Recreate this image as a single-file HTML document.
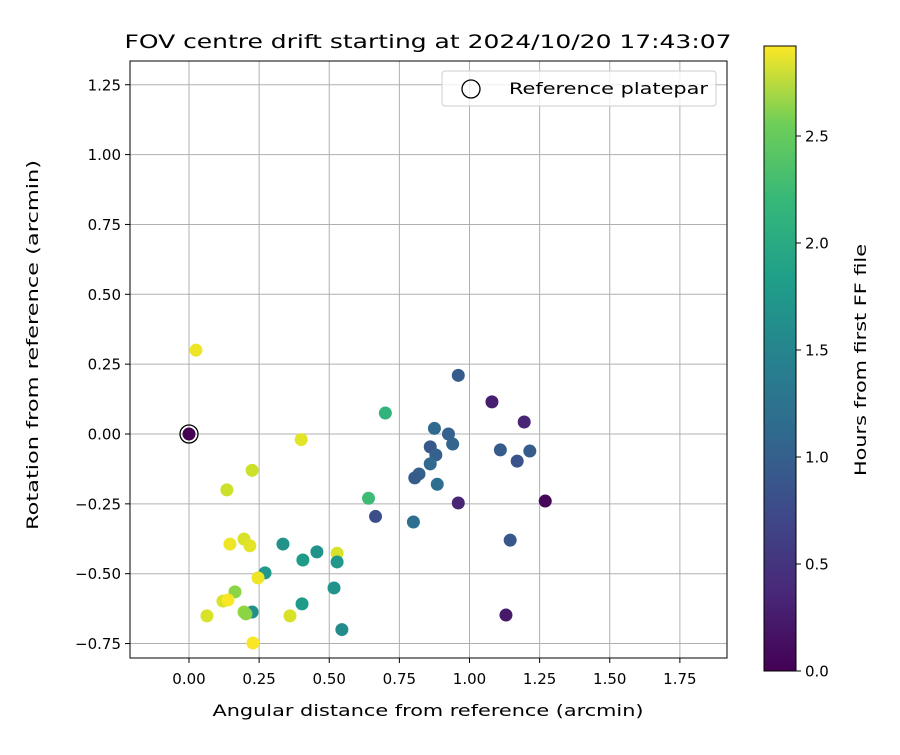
<!DOCTYPE html>
<html><head><meta charset="utf-8"><style>
body{margin:0;background:#fff;}
svg{font-family:"DejaVu Sans","Liberation Sans",sans-serif;}
</style></head><body>
<svg id="chart" width="900" height="750" xmlns="http://www.w3.org/2000/svg">
<defs>
<linearGradient id="vir" x1="0" y1="1" x2="0" y2="0">
<stop offset="0" stop-color="#440154"/><stop offset="0.125" stop-color="#482878"/><stop offset="0.25" stop-color="#3e4989"/><stop offset="0.375" stop-color="#31688e"/><stop offset="0.5" stop-color="#26828e"/><stop offset="0.625" stop-color="#1f9e89"/><stop offset="0.75" stop-color="#35b779"/><stop offset="0.875" stop-color="#6ece58"/><stop offset="1" stop-color="#fde725"/>
</linearGradient>
</defs>
<g id="grid"></g>
<g id="points"></g>
<rect x="130" y="61" width="597" height="597" fill="none" stroke="#000" stroke-width="1"/>
<g id="ticks"></g>
<text x="428" y="48" text-anchor="middle" font-size="19" textLength="607" lengthAdjust="spacingAndGlyphs">FOV centre drift starting at 2024/10/20 17:43:07</text>
<text x="428" y="716" text-anchor="middle" font-size="16" textLength="431" lengthAdjust="spacingAndGlyphs">Angular distance from reference (arcmin)</text>
<text transform="translate(38,345) rotate(-90)" text-anchor="middle" font-size="16" textLength="370" lengthAdjust="spacingAndGlyphs">Rotation from reference (arcmin)</text>
<g>
<rect x="442" y="71" width="274" height="35" rx="3" fill="#fff" fill-opacity="0.8" stroke="#ccc"/>
<circle cx="471" cy="89" r="9" fill="none" stroke="#000" stroke-width="1.3"/>
<text x="509" y="94" font-size="16" textLength="199" lengthAdjust="spacingAndGlyphs">Reference platepar</text>
</g>
<rect x="764" y="46" width="32" height="625" fill="url(#vir)" stroke="#000" stroke-width="1"/>
<g id="cticks"></g>
<text transform="translate(866,360) rotate(-90)" text-anchor="middle" font-size="16" textLength="232" lengthAdjust="spacingAndGlyphs">Hours from first FF file</text>
</svg>
<script>
const xVals=[0.025,0,0.40,0.225,0.135,0.70,0.64,0.665,0.96,1.08,1.195,0.875,0.925,0.94,0.86,0.88,0.86,0.82,0.805,0.885,0.96,1.11,1.17,1.215,1.27,0.80,1.145,1.13,0.196,0.146,0.217,0.335,0.406,0.456,0.528,0.528,0.517,0.271,0.246,0.164,0.121,0.139,0.225,0.196,0.203,0.064,0.36,0.403,0.545,0.228];
const yVals=[0.30,0,-0.02,-0.13,-0.20,0.075,-0.23,-0.295,0.21,0.115,0.043,0.02,0,-0.036,-0.046,-0.075,-0.107,-0.143,-0.157,-0.18,-0.247,-0.057,-0.097,-0.061,-0.24,-0.315,-0.38,-0.648,-0.376,-0.394,-0.40,-0.394,-0.451,-0.422,-0.427,-0.458,-0.551,-0.497,-0.515,-0.565,-0.598,-0.594,-0.637,-0.637,-0.644,-0.651,-0.651,-0.608,-0.70,-0.748];
const hours=[2.85,0,2.8,2.7,2.7,1.9,2.0,0.7,0.85,0.25,0.3,1.0,0.9,0.95,0.8,0.9,1.0,0.9,0.85,1.05,0.3,0.85,0.75,0.85,0.05,1.05,0.8,0.2,2.75,2.85,2.8,1.5,1.6,1.5,2.75,1.55,1.5,1.55,2.85,2.4,2.75,2.9,1.45,2.45,2.4,2.75,2.75,1.6,1.4,2.9];
const xTicks=["0.00","0.25","0.50","0.75","1.00","1.25","1.50","1.75"];
const yTicks=["-0.75","-0.50","-0.25","0.00","0.25","0.50","0.75","1.00","1.25"];
const cTicks=["0.0","0.5","1.0","1.5","2.0","2.5"];
const NS="http://www.w3.org/2000/svg";
const X=v=>189+v*280.5, Y=v=>434-v*279.4, C=v=>671-v*214;
const vir=[[68,1,84],[72,40,120],[62,73,137],[49,104,142],[38,130,142],[31,158,137],[53,183,121],[110,206,88],[181,222,43],[253,231,37]];
function col(h){let t=Math.max(0,Math.min(1,h/2.92))*(vir.length-1);let i=Math.min(vir.length-2,Math.floor(t)),f=t-i;
return 'rgb('+vir[i].map((c,k)=>Math.round(c+(vir[i+1][k]-c)*f)).join(',')+')';}
function mk(tag,a,p){const e=document.createElementNS(NS,tag);for(const k in a)e.setAttribute(k,a[k]);p.appendChild(e);return e;}
const grid=document.getElementById('grid'),ticks=document.getElementById('ticks'),pts=document.getElementById('points'),ct=document.getElementById('cticks');
xTicks.forEach(s=>{const x=X(parseFloat(s));
const l=mk('line',{x1:x,x2:x,y1:61,y2:658,stroke:'#b0b0b0','stroke-width':1},grid);


mk('line',{x1:x,x2:x,y1:658,y2:663,stroke:'#000'},ticks);
const t=mk('text',{x:x,y:684,'text-anchor':'middle','font-size':15},ticks);t.textContent=s;

});
yTicks.forEach(s=>{const y=Y(parseFloat(s));
const l=mk('line',{x1:130,x2:727,y1:y,y2:y,stroke:'#b0b0b0','stroke-width':1},grid);


mk('line',{x1:125,x2:130,y1:y,y2:y,stroke:'#000'},ticks);
const t=mk('text',{x:121,y:y+5.5,'text-anchor':'end','font-size':15},ticks);t.textContent=s.replace('-','\u2212');

});
xVals.forEach((v,i)=>{const c=mk('circle',{cx:X(v),cy:Y(yVals[i]),r:6.5,fill:col(hours[i])},pts);

});
const ref=mk('circle',{cx:X(0),cy:Y(0),r:9,fill:'none',stroke:'#000','stroke-width':1.3},pts);


cTicks.forEach(s=>{const y=C(parseFloat(s));
mk('line',{x1:796,x2:801,y1:y,y2:y,stroke:'#000'},ct);
const t=mk('text',{x:805,y:y+5.5,'font-size':15},ct);t.textContent=s;

});
</script>
</body></html>
